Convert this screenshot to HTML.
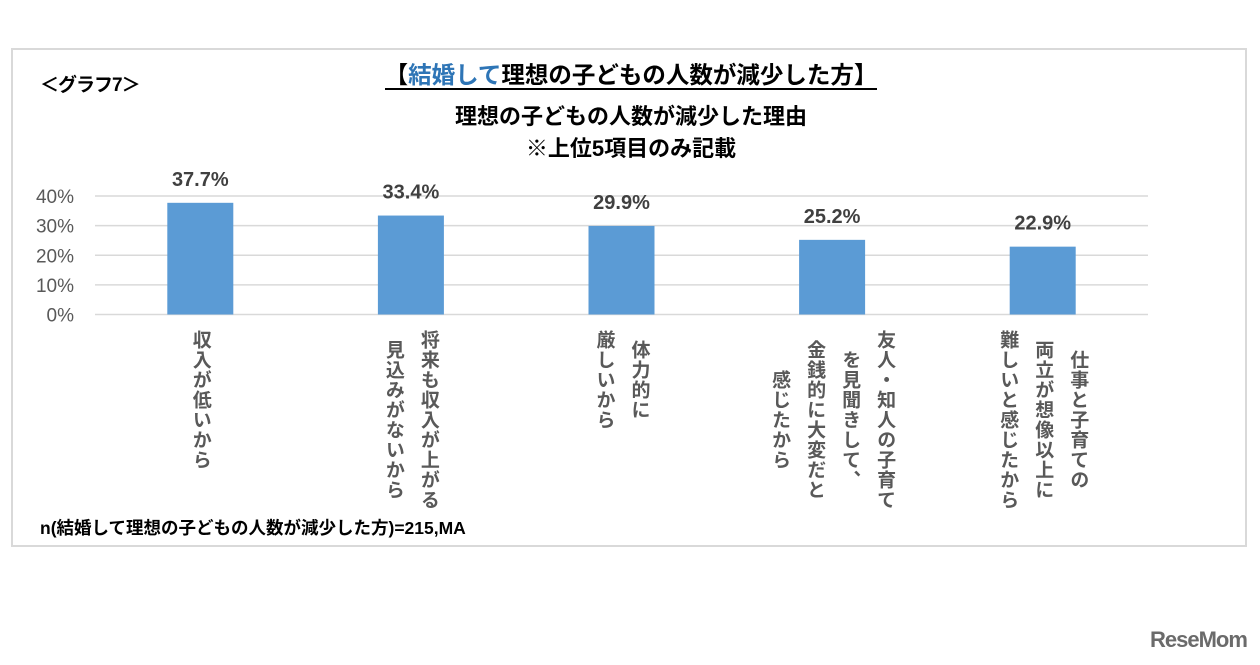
<!DOCTYPE html>
<html><head><meta charset="utf-8">
<style>
body{margin:0;width:1260px;height:665px;background:#fff;position:relative;overflow:hidden;font-family:"Liberation Sans","Noto Sans CJK JP",sans-serif;}
.abs{position:absolute;}
#frame{left:11px;top:48px;width:1236px;height:499px;border:2px solid #d9d9d9;box-sizing:border-box;}
.vl{position:absolute;writing-mode:vertical-rl;text-align:center;font-size:19px;font-weight:bold;color:#595959;line-height:35px;letter-spacing:1px;}
</style></head><body>
<div id="frame" class="abs"></div>
<div class="abs" style="left:40px;top:70px;font-size:19px;font-weight:bold;letter-spacing:-1px;">＜グラフ7＞</div>
<div class="abs" style="left:0;width:1262px;top:56px;text-align:center;font-size:23.5px;font-weight:bold;"><span style="border-bottom:2px solid #000;">【<span style="color:#2e75b6">結婚して</span>理想の子どもの人数が減少した方】</span></div>
<div class="abs" style="left:0;width:1262px;top:101px;text-align:center;font-size:22px;font-weight:bold;line-height:32px;">理想の子どもの人数が減少した理由<br>※上位5項目のみ記載</div>
<svg class="abs" style="left:0;top:0" width="1260" height="665" id="chart"></svg>
<div id="labels"></div>
<div class="abs" style="left:40px;top:515px;font-size:17.5px;font-weight:bold;">n(結婚して理想の子どもの人数が減少した方)=215,MA</div>
<div class="abs" style="left:1150px;top:627px;font-size:22px;font-weight:bold;color:#6b6b6b;letter-spacing:-1px;">ReseMom</div>
<script>
const categories=[["収入が低いから"],["将来も収入が上がる","見込みがないから"],["体力的に","厳しいから"],["友人・知人の子育て","を見聞きして、","金銭的に大変だと","感じたから"],["仕事と子育ての","両立が想像以上に","難しいと感じたから"]];
const values=[37.7,33.4,29.9,25.2,22.9];
const ticks=[0,10,20,30,40];
const X0=95,X1=1148,Y0=314.5,Y40=196;
const y=v=>Y0-(Y0-Y40)*v/40;
const band=(X1-X0)/values.length;
const x=i=>X0+band*(i+0.5);
const svg=document.getElementById('chart');
const NS='http://www.w3.org/2000/svg';
ticks.forEach(t=>{
  const l=document.createElementNS(NS,'line');
  
  
  l.setAttribute('x1',X0);l.setAttribute('x2',X1);l.setAttribute('y1',y(t));l.setAttribute('y2',y(t));
  l.setAttribute('stroke','#d9d9d9');l.setAttribute('stroke-width','1.5');
  svg.appendChild(l);
  const tx=document.createElementNS(NS,'text');
  
  
  tx.setAttribute('x',74);tx.setAttribute('y',y(t)+7);tx.setAttribute('text-anchor','end');
  tx.setAttribute('font-size','19');tx.setAttribute('fill','#595959');
  tx.textContent=t+'%';svg.appendChild(tx);
});
values.forEach((v,i)=>{
  const r=document.createElementNS(NS,'rect');
  
  
  r.setAttribute('x',x(i)-33);r.setAttribute('width',66);r.setAttribute('y',y(v));r.setAttribute('height',Y0-y(v));
  r.setAttribute('fill','#5b9bd5');svg.appendChild(r);
  const t=document.createElementNS(NS,'text');
  
  
  t.setAttribute('x',x(i));t.setAttribute('y',y(v)-17);t.setAttribute('text-anchor','middle');
  t.setAttribute('font-size','20');t.setAttribute('font-weight','bold');t.setAttribute('fill','#404040');
  t.textContent=v.toFixed(1)+'%';svg.appendChild(t);
});
const lab=document.getElementById('labels');
categories.forEach((c,i)=>{
  const d=document.createElement('div');
  
  
  d.className='vl';
  d.innerHTML=c.join('<br>');
  lab.appendChild(d);
  const w=c.length*35;
  d.style.left=(x(i)-w/2)+'px';
  d.style.top='330px';
});
</script>
</body></html>
